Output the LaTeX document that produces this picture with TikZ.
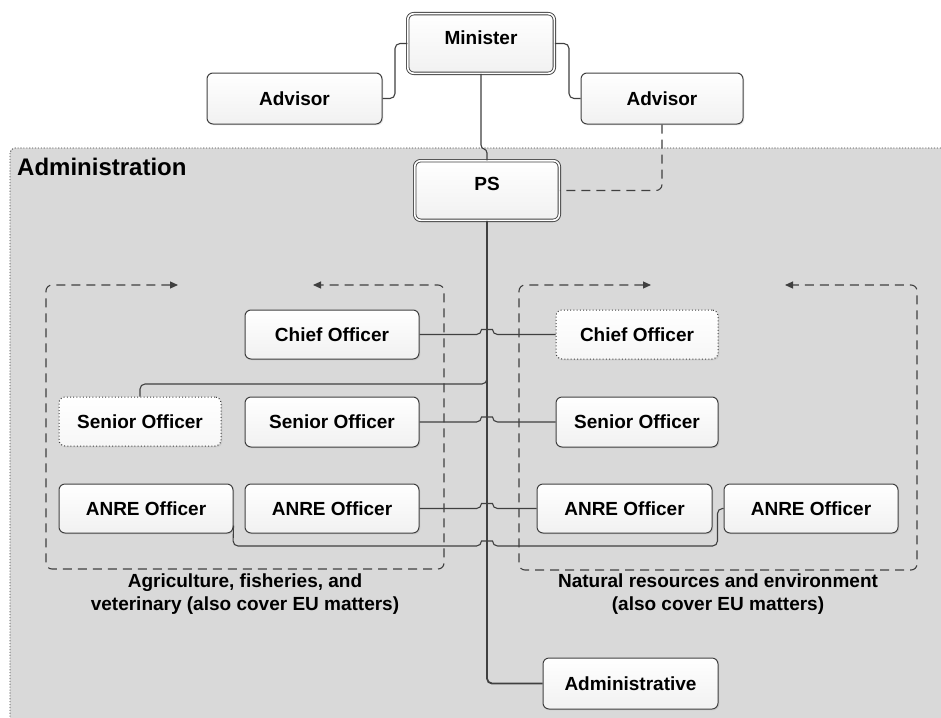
\documentclass[tikz,border=0pt]{standalone}
\usepackage{fontspec}
\setmainfont{Liberation Sans}
\usetikzlibrary{arrows.meta,shadows}

\definecolor{ink}{HTML}{404040}
\definecolor{panel}{HTML}{D9D9D9}
\definecolor{boxshade}{HTML}{F1F1F1}

\tikzset{
  x=1pt, y=-1pt,
  boxtext/.style={font=\fontsize{19}{22}\selectfont\bfseries, text=black},
  unitbox/.style={boxtext, draw=ink, line width=1pt, rounded corners=6pt,
    top color=white, bottom color=boxshade, inner sep=0pt,
    drop shadow={shadow xshift=1.3pt, shadow yshift=-1.3pt, opacity=0.15}},
  vacantbox/.style={unitbox, dash pattern=on 1pt off 2.2pt, top color=white, bottom color=boxshade!60},
  headbox/.style={unitbox, double=white, double distance=1.6pt, line width=0.9pt},
  bare/.style={boxtext, inner sep=0pt},
  link/.style={draw=ink, line width=1.1pt, rounded corners=5pt},
  spine/.style={draw=ink, line width=1.8pt, rounded corners=5pt},
  dashlink/.style={draw=ink, line width=1.1pt, dash pattern=on 9pt off 6pt, rounded corners=6pt},
  groupframe/.style={dashlink, {Triangle[length=8pt,width=7pt]}-{Triangle[length=8pt,width=7pt]}},
  grouplabel/.style={font=\fontsize{19}{23}\selectfont\bfseries, align=center, inner sep=0pt},
}

\begin{document}
\begin{tikzpicture}
\useasboundingbox (0,0) rectangle (941,717);
\fill[white] (0,0) rectangle (941,717);

% administration area
\begin{scope}
  \clip (0,0) rectangle (941,717);
  \filldraw[fill=panel, draw=ink, line width=0.9pt, dash pattern=on 1.1pt off 1.8pt, rounded corners=5pt]
    (10,148) rectangle (970,760);
\end{scope}
\node[anchor=west, font=\fontsize{24}{28}\selectfont\bfseries, inner sep=0pt] (adminhead) at (17,167) {Administration};

% top of the hierarchy
\node[headbox, minimum width=146.6, minimum height=59.6] (minister) at (481,43.5) {};
\node[bare] (ministertext) at (481,38) {Minister};
\node[unitbox, minimum width=175, minimum height=51] (advL) at (294.5,98.5) {Advisor};
\node[unitbox, minimum width=162, minimum height=51] (advR) at (662,98.5) {Advisor};
\node[headbox, minimum width=144.6, minimum height=59.6] (ps) at (487,190.5) {};
\node[bare] (pstext) at (487,184) {PS};

% agriculture group
\node[unitbox, minimum width=174, minimum height=49] (chiefL) at (332,334.5) {Chief Officer};
\node[vacantbox, minimum width=162, minimum height=49] (seniorD) at (140,421.5) {Senior Officer};
\node[unitbox, minimum width=174, minimum height=50] (seniorM) at (332,422) {Senior Officer};
\node[unitbox, minimum width=174, minimum height=49] (anreL) at (146,508.5) {ANRE Officer};
\node[unitbox, minimum width=174, minimum height=49] (anreM) at (332,508.5) {ANRE Officer};

% natural resources group
\node[vacantbox, minimum width=162, minimum height=49] (chiefR) at (637,334.5) {Chief Officer};
\node[unitbox, minimum width=162, minimum height=50] (seniorR) at (637,422) {Senior Officer};
\node[unitbox, minimum width=175, minimum height=49] (anreR1) at (624.5,508.5) {ANRE Officer};
\node[unitbox, minimum width=174, minimum height=49] (anreR2) at (811,508.5) {ANRE Officer};

\node[unitbox, minimum width=175, minimum height=51] (admin) at (630.5,683.5) {Administrative};

% group frames and their captions
\draw[groupframe] (178,285) -- (46,285) -- (46,569) -- (444,569) -- (444,285) -- (313,285);
\draw[groupframe] (651,285) -- (519,285) -- (519,570) -- (917,570) -- (917,285) -- (785,285);
\node[grouplabel] (aglabel) at (245,594) {Agriculture, fisheries, and\\veterinary (also cover EU matters)};
\node[grouplabel] (nrlabel) at (718,594) {Natural resources and environment\\(also cover EU matters)};

% connectors
\draw[link] (minister.west) -- (395,43.5) -- (395,98.5) -- (advL.east);
\draw[link] (minister.east) -- (569,43.5) -- (569,98.5) -- (advR.west);
\draw[dashlink] (advR.south) -- (662,190.5) -- (ps.east);
\draw[draw=ink, line width=1.1pt] (minister.south) -- (481,145)
  .. controls (481,150) and (487,148) .. (487,153) -- (ps.north);
\draw[spine] (ps.south) -- (487,683.5) -- (admin.west);

\draw[link] (chiefL.east) -- (481.5,334.5)
  .. controls (481.5,329.5) and (492.5,329.5) .. (492.5,334.5) -- (chiefR.west);
\draw[link] (seniorD.north) -- (140,384) -- (487,384) -- (487,374);
\draw[link] (seniorM.east) -- (481.5,422)
  .. controls (481.5,417) and (492.5,417) .. (492.5,422) -- (seniorR.west);
\draw[link] (anreM.east) -- (481.5,508.5)
  .. controls (481.5,503.5) and (492.5,503.5) .. (492.5,508.5) -- (anreR1.west);
\draw[link] (anreL.east) ++(0,17) -- (233,546) -- (481.5,546)
  .. controls (481.5,541) and (492.5,541) .. (492.5,546) -- (717.5,546) -- (717.5,508.5) -- (anreR2.west);
\end{tikzpicture}
\end{document}
